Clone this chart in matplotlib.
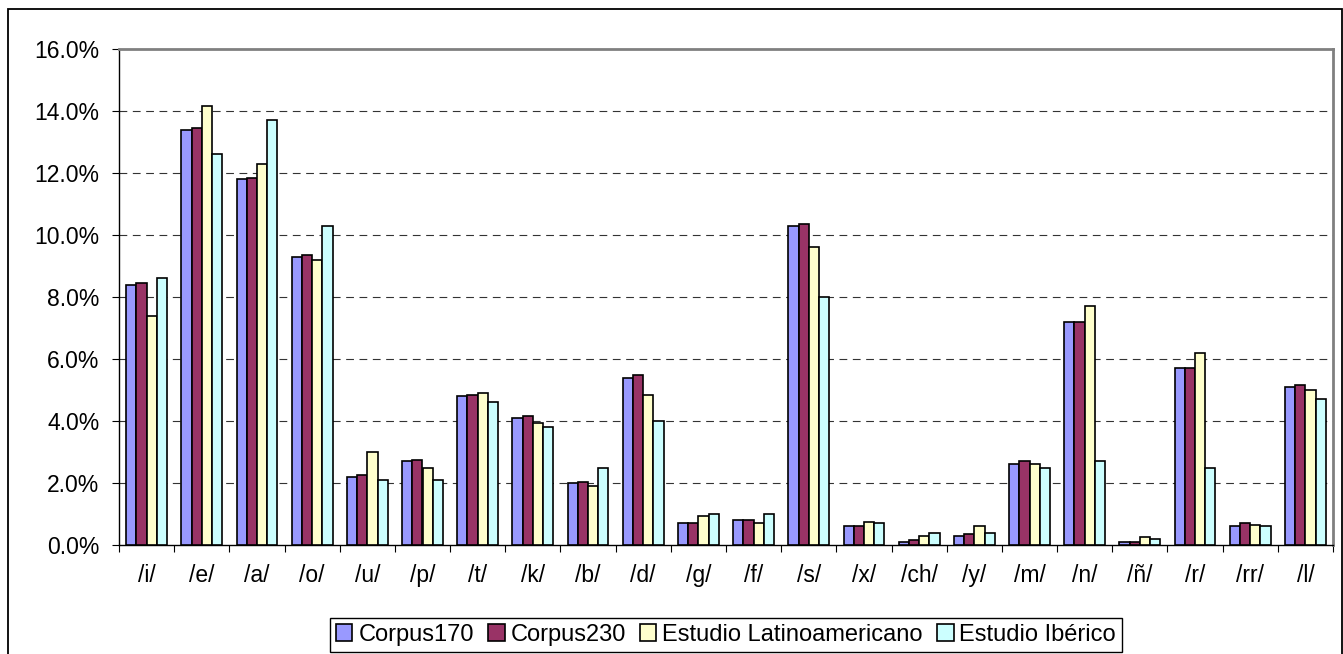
import numpy as np
import matplotlib
matplotlib.use("Agg")
import matplotlib.pyplot as plt
from matplotlib.patches import Rectangle
from matplotlib.ticker import FixedLocator, FuncFormatter

categories = ["/i/", "/e/", "/a/", "/o/", "/u/", "/p/", "/t/", "/k/", "/b/", "/d/",
              "/g/", "/f/", "/s/", "/x/", "/ch/", "/y/", "/m/", "/n/", "/ñ/", "/r/",
              "/rr/", "/l/"]

corpus170 = [8.4, 13.4, 11.8, 9.3, 2.2, 2.7, 4.8, 4.1, 2.0, 5.4,
             0.7, 0.8, 10.3, 0.6, 0.1, 0.3, 2.6, 7.2, 0.1, 5.7, 0.6, 5.1]
corpus230 = [8.45, 13.45, 11.85, 9.35, 2.25, 2.75, 4.85, 4.15, 2.02, 5.5,
             0.72, 0.8, 10.35, 0.62, 0.15, 0.35, 2.7, 7.2, 0.1, 5.72, 0.7, 5.15]
latino = [7.4, 14.15, 12.3, 9.2, 3.0, 2.5, 4.9, 3.95, 1.9, 4.85,
          0.95, 0.7, 9.6, 0.75, 0.3, 0.6, 2.62, 7.7, 0.25, 6.2, 0.65, 5.0]
iberico = [8.6, 12.6, 13.7, 10.3, 2.1, 2.1, 4.6, 3.8, 2.5, 4.0,
           1.0, 1.0, 8.0, 0.7, 0.4, 0.4, 2.5, 2.7, 0.2, 2.5, 0.6, 4.7]

series_names = ["Corpus170", "Corpus230", "Estudio Latinoamericano", "Estudio Ibérico"]
series_values = [corpus170, corpus230, latino, iberico]
series_colors = ["#9999FF", "#993366", "#FFFFCC", "#CCFFFF"]

yticks = [0, 2, 4, 6, 8, 10, 12, 14, 16]

plt.rcParams["font.family"] = ["Liberation Sans", "DejaVu Sans"]
FS = 16.5
FS_LEG = 17

W, H = 1343, 654
fig = plt.figure(figsize=(W / 100, H / 100), dpi=100)
ax = fig.add_axes([119 / W, 1 - 545 / H, (1333 - 119) / W, (545 - 49) / H])

x = np.arange(len(categories))
bw = 0.185
handles = []
for i, (name, vals, col) in enumerate(zip(series_names, series_values, series_colors)):
    b = ax.bar(x + (i - 1.5) * bw, vals, width=bw, color=col, edgecolor="black",
               linewidth=1.2, label=name, zorder=3)
    handles.append(b)

ax.set_xlim(-0.5, len(categories) - 0.5)
ax.set_ylim(0, 16)
ax.set_yticks(yticks)
ax.yaxis.set_major_formatter(FuncFormatter(lambda v, p: f"{v:.1f}%"))
ax.set_xticks(x)
ax.set_xticklabels(categories)
ax.xaxis.set_minor_locator(FixedLocator(np.arange(-0.5, len(categories), 1.0)))
ax.tick_params(axis="x", which="major", length=0, pad=14, labelsize=FS)
ax.tick_params(axis="x", which="minor", length=5, width=0.8, direction="out", color="black")
ax.tick_params(axis="y", length=5, width=0.8, direction="out", pad=9, labelsize=FS)

for yv in yticks[1:-1]:
    ax.axhline(yv, color="#333333", linewidth=0.8, linestyle=(0, (7, 5)), zorder=1)

for s in ["left", "bottom"]:
    ax.spines[s].set_color("black")
    ax.spines[s].set_linewidth(1.0)
for s in ["top", "right"]:
    ax.spines[s].set_color("#808080")
    ax.spines[s].set_linewidth(2.0)

leg = fig.legend(handles=handles, labels=series_names, loc="center",
                 bbox_to_anchor=(726 / W, 1 - 635 / H), ncol=4, fontsize=FS_LEG,
                 frameon=True, fancybox=False, edgecolor="black", framealpha=1,
                 handlelength=0.7, handleheight=0.7, handletextpad=0.25,
                 columnspacing=0.6, borderpad=0.25, borderaxespad=0)
leg.get_frame().set_linewidth(1.0)

fig.add_artist(Rectangle((8 / W, -0.05), (1342 - 8) / W, 1.05 - 8.5 / H,
                         transform=fig.transFigure, fill=False,
                         edgecolor="black", linewidth=1.3))

fig.savefig("out.png", dpi=100)
